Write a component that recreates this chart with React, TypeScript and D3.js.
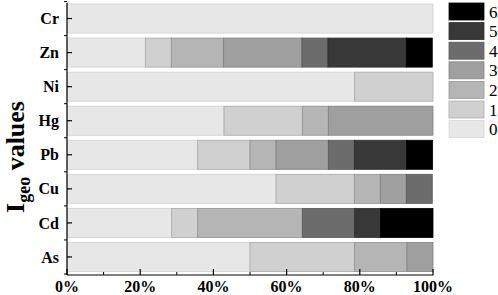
import React from "react";
import * as d3 from "d3";

const categories = ["Cr", "Zn", "Ni", "Hg", "Pb", "Cu", "Cd", "As"];
const levels = ["0", "1", "2", "3", "4", "5", "6"];
const level0 = [100, 21.4, 78.6, 42.9, 35.7, 57.1, 28.6, 50];
const level1 = [0, 7.1, 21.4, 21.4, 14.3, 21.4, 7.1, 28.6];
const level2 = [0, 14.3, 0, 7.1, 7.1, 7.1, 28.6, 14.3];
const level3 = [0, 21.4, 0, 28.6, 14.3, 7.1, 0, 7.1];
const level4 = [0, 7.1, 0, 0, 7.1, 7.1, 14.3, 0];
const level5 = [0, 21.4, 0, 0, 14.3, 0, 7.1, 0];
const level6 = [0, 7.1, 0, 0, 7.1, 0, 14.3, 0];
const xTicks = [0, 20, 40, 60, 80, 100];
const xMinorTicks = [10, 30, 50, 70, 90];
const colors = ["#e7e7e7", "#d0d0d0", "#b5b5b5", "#9f9f9f", "#6c6c6c", "#383838", "#000000"];

const series = [level0, level1, level2, level3, level4, level5, level6];
const FONT = "Liberation Serif, Times New Roman, serif";

export default function App() {
  const W = 498, H = 295;
  const x = d3.scaleLinear().domain([0, 100]).range([67, 433]);
  const y = d3.scaleBand().domain(categories).range([1.5, 274]).paddingInner(0.147).paddingOuter(0.0735);
  const rows = categories.map((c, i) => {
    const r: any = { cat: c };
    levels.forEach((l, j) => (r[l] = series[j][i]));
    return r;
  });
  const stacked = d3.stack().keys(levels)(rows);
  const axisY0 = 3, axisY1 = 275;
  const step = y.step();
  const boundaries = d3.range(categories.length + 1).map((i) => (y(categories[0]) as number) - (step - y.bandwidth()) / 2 + i * step);

  return (
    <svg width={W} height={H} style={{ position: "absolute", left: 0, top: 0, background: "#fff" }}>
      {stacked.map((s, j) => (
        <g key={j}>
          {s.map((d, i) => {
            const w = x(d[1]) - x(d[0]);
            if (w <= 0.01) return null;
            const c = d3.color(colors[j])!.darker(j === 0 ? 0.3 : 0.6).formatHex();
            return (
              <rect key={i} x={x(d[0])} y={y(categories[i])} width={w} height={y.bandwidth()}
                fill={colors[j]} stroke={c} strokeWidth={0.8} />
            );
          })}
        </g>
      ))}
      {/* y axis */}
      <line x1={67} x2={67} y1={axisY0} y2={axisY1} stroke="#000" strokeWidth={1.2} />
      {categories.map((c) => {
        const cy = (y(c) as number) + y.bandwidth() / 2;
        return (
          <g key={c}>
            <line x1={67} x2={72} y1={cy} y2={cy} stroke="#000" strokeWidth={1.2} />
            <text x={59} y={cy} dy="0.35em" textAnchor="end" fontWeight="bold" fontSize={16} fontFamily={FONT}>{c}</text>
          </g>
        );
      })}
      {boundaries.map((b, i) => (
        <line key={i} x1={64} x2={67} y1={b} y2={b} stroke="#000" strokeWidth={1} />
      ))}
      {/* x axis */}
      <line x1={67} x2={433.5} y1={axisY1} y2={axisY1} stroke="#000" strokeWidth={1.2} />
      {xTicks.map((t) => (
        <g key={t}>
          <line x1={x(t)} x2={x(t)} y1={axisY1} y2={axisY1 - 6} stroke="#000" strokeWidth={1.2} />
          <text x={x(t)} y={292} textAnchor="middle" fontWeight="bold" fontSize={16} fontFamily={FONT}>{t}%</text>
        </g>
      ))}
      {xMinorTicks.map((t) => (
        <line key={t} x1={x(t)} x2={x(t)} y1={axisY1} y2={axisY1 - 3} stroke="#000" strokeWidth={1} />
      ))}
      {/* y title */}
      <text transform="translate(24,157) rotate(-90)" textAnchor="middle" fontWeight="bold" fontSize={26} fontFamily={FONT}>
        I<tspan fontSize={18} dy={6}>geo</tspan><tspan dy={-6}> values</tspan>
      </text>
      {/* legend */}
      {levels.slice().reverse().map((l, i) => {
        const j = levels.length - 1 - i;
        const ly = 3 + i * 19.6;
        return (
          <g key={l}>
            <rect x={449} y={ly} width={35} height={17} fill={colors[j]}
              stroke={d3.color(colors[j])!.darker(j === 0 ? 0.2 : 0.5).formatHex()} strokeWidth={0.8} />
            <text x={489} y={ly + 8.5} dy="0.36em" fontSize={17} fontFamily={FONT}>{l}</text>
          </g>
        );
      })}
    </svg>
  );
}
